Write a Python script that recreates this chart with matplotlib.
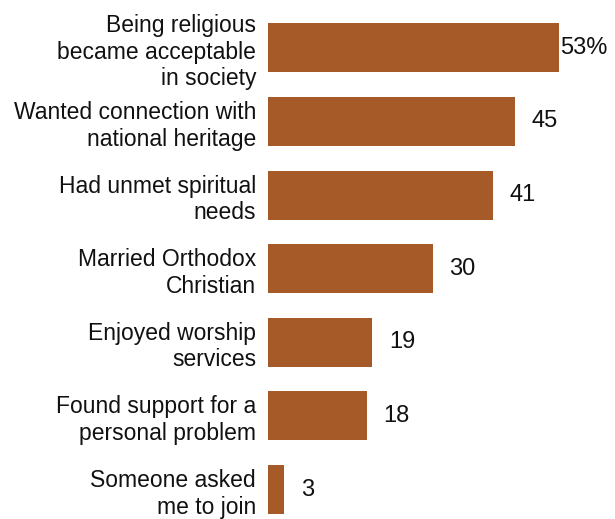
import matplotlib
matplotlib.use("Agg")
import matplotlib.pyplot as plt

# reasons, top to bottom
categories = [
    "Being religious\nbecame acceptable\nin society",
    "Wanted connection with\nnational heritage",
    "Had unmet spiritual\nneeds",
    "Married Orthodox\nChristian",
    "Enjoyed worship\nservices",
    "Found support for a\npersonal problem",
    "Someone asked\nme to join",
]
values = [53, 45, 41, 30, 19, 18, 3]
value_labels = ["53%", "45", "41", "30", "19", "18", "3"]

plt.rcParams['font.family'] = ['Liberation Sans Narrow', 'Liberation Sans', 'DejaVu Sans']

W, H = 615, 519
fig = plt.figure(figsize=(W / 100, H / 100), dpi=100)

px_per_unit = 291 / 53
xmax = 62.5
ax = fig.add_axes([268 / W, 0, xmax * px_per_unit / W, 508 / H])

color = '#A65A28'
ypos = list(range(len(values)))
ax.barh(ypos, values, height=0.667, color=color)

ax.set_xlim(0, xmax)
ax.set_ylim(6.4, -0.5)

ax.set_yticks(ypos)
ax.set_yticklabels(categories, fontsize=16.5, linespacing=1.2, color='#111111')
ax.tick_params(axis='y', length=0, pad=8.6)
ax.set_xticks([])
for s in ax.spines.values():
    s.set_visible(False)

for i, (v, lab) in enumerate(zip(values, value_labels)):
    off = 0.2 if i == 0 else 3.0
    ax.text(v + off, i, lab, va='center', ha='left', fontsize=17, color='#111111')

fig.savefig("out.png", dpi=100)
